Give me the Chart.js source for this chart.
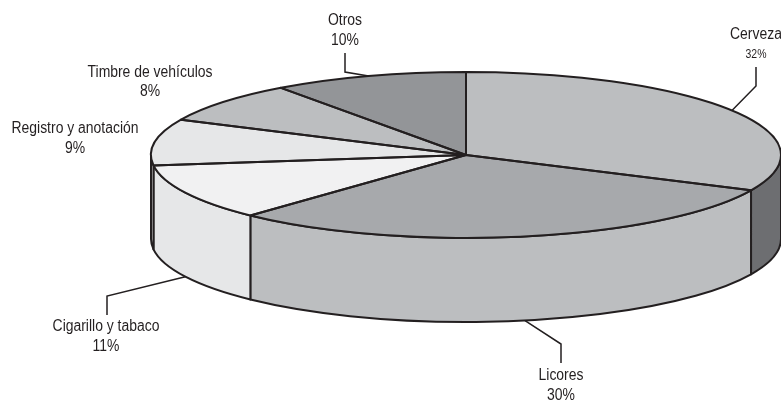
<!DOCTYPE html>
<html>
<head>
<meta charset="utf-8">
<script src="https://cdn.jsdelivr.net/npm/chart.js@4.4.1/dist/chart.umd.min.js"></script>
<style>
  html, body { margin: 0; padding: 0; background: #fff; }
  #wrap { width: 781px; height: 402px; }
</style>
</head>
<body>
<div id="wrap"><canvas id="pie3d"></canvas></div>
<script>
const categories = ['Cerveza', 'Licores', 'Cigarillo y tabaco', 'Registro y anotación', 'Timbre de vehículos', 'Otros'];
const shares = [32, 30, 11, 9, 8, 10];
const pctLabels = ['32%', '30%', '11%', '9%', '8%', '10%'];
const topColors = ['#bcbec0', '#a7a9ac', '#f1f1f2', '#e6e7e8', '#bcbec0', '#939598'];
const sideColors = ['#6d6e71', '#bcbec0', '#e6e7e8', '#e6e7e8', '#bcbec0', '#939598'];

// ellipse shape of the flattened pie
const RX = 315, RY = 83, DEPTH = 84;
const INK = '#231f20';
const FONT = '"Liberation Sans", Arial, sans-serif';

// where each label sits; leader = knee + end point, from the slice edge
const labelPos = [
  { x: 756, y1: 35, y2: 55, small: true, leader: [[756, 86], [756, 67]] },
  { x: 561, y1: 376, y2: 396, bottom: true, leader: [[561, 344], [561, 363]] },
  { x: 106, y1: 327, y2: 347, bottom: true, leader: [[107, 296], [107, 315]] },
  { x: 75, y1: 129, y2: 149 },
  { x: 150, y1: 73, y2: 92 },
  { x: 345, y1: 21, y2: 41, leader: [[345, 72], [345, 53]] }
];

// condensed look: squeeze the regular face horizontally
function squeezedText(ctx, text, x, y, sx) {
  ctx.save();
  ctx.translate(x, y);
  ctx.scale(sx, 1);
  ctx.fillText(text, 0, 0);
  ctx.restore();
}

const pie3d = {
  id: 'pie3d',
  beforeDatasetsDraw(chart) {
    const arcs = chart.getDatasetMeta(0).data;
    const { x: cx, y: cy, outerRadius: r } = arcs[0];
    const ctx = chart.ctx;
    // front walls
    ctx.save();
    ctx.lineWidth = 2;
    ctx.strokeStyle = INK;
    ctx.lineJoin = 'round';
    arcs.forEach((a, i) => {
      const s = Math.max(a.startAngle, 0), e = Math.min(a.endAngle, Math.PI);
      if (e <= s) return;
      ctx.beginPath();
      ctx.ellipse(cx, cy, RX, RY, 0, s, e);
      ctx.lineTo(cx + RX * Math.cos(e), cy + DEPTH + RY * Math.sin(e));
      ctx.ellipse(cx, cy + DEPTH, RX, RY, 0, e, s, true);
      ctx.closePath();
      ctx.fillStyle = sideColors[i];
      ctx.fill();
      ctx.stroke();
    });
    ctx.restore();
    // squash the round pie into the ellipse for the top face
    ctx.save();
    ctx.translate(cx, cy);
    ctx.scale(RX / r, RY / r);
    ctx.translate(-cx, -cy);
  },
  afterDatasetsDraw(chart) {
    const ctx = chart.ctx;
    ctx.restore();
    const arcs = chart.getDatasetMeta(0).data;
    const { x: cx, y: cy } = arcs[0];
    ctx.save();
    ctx.lineWidth = 2;
    ctx.strokeStyle = INK;
    ctx.lineJoin = 'round';
    arcs.forEach(a => {
      ctx.beginPath();
      ctx.moveTo(cx, cy);
      ctx.ellipse(cx, cy, RX, RY, 0, a.startAngle, a.endAngle);
      ctx.closePath();
      ctx.stroke();
    });
    ctx.restore();
  },
  afterDraw(chart) {
    const ctx = chart.ctx;
    const arcs = chart.getDatasetMeta(0).data;
    const { x: cx, y: cy } = arcs[0];
    ctx.save();
    ctx.fillStyle = INK;
    ctx.strokeStyle = INK;
    ctx.lineWidth = 1.5;
    ctx.textAlign = 'center';
    ctx.textBaseline = 'middle';
    ctx.font = '16px ' + FONT;
    const squeeze = 127 / ctx.measureText('Registro y anotación').width;
    arcs.forEach((a, i) => {
      const p = labelPos[i];
      if (p.leader) {
        const mid = (a.startAngle + a.endAngle) / 2;
        const sx = cx + RX * Math.cos(mid);
        const sy = cy + RY * Math.sin(mid) + (p.bottom ? DEPTH : 0);
        ctx.beginPath();
        ctx.moveTo(sx, sy);
        p.leader.forEach(([lx, ly]) => ctx.lineTo(lx, ly));
        ctx.stroke();
      }
      ctx.font = '16px ' + FONT;
      squeezedText(ctx, categories[i], p.x, p.y1, squeeze);
      ctx.font = (p.small ? '12px ' : '16px ') + FONT;
      squeezedText(ctx, pctLabels[i], p.x, p.y2, squeeze);
    });
    ctx.restore();
  }
};

new Chart(document.getElementById('pie3d'), {
  type: 'pie',
  data: {
    labels: categories,
    datasets: [{
      data: shares,
      backgroundColor: topColors,
      borderWidth: 0,
      hoverOffset: 0,
      clip: false
    }]
  },
  options: {
    responsive: true,
    maintainAspectRatio: false,
    animation: false,
    events: [],
    layout: { padding: { left: 151, right: 0, top: 0, bottom: 92 } },
    plugins: {
      legend: { display: false },
      tooltip: { enabled: false }
    }
  },
  plugins: [pie3d]
});
</script>
</body>
</html>
